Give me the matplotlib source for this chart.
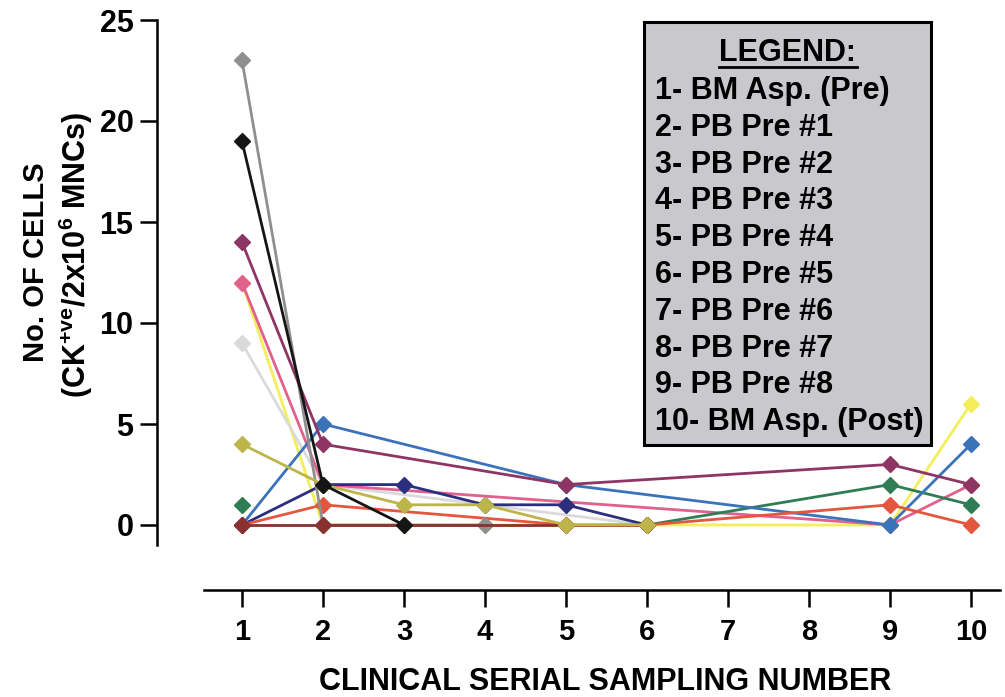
import numpy as np
import matplotlib
matplotlib.use("Agg")
from matplotlib import pyplot as plt
from matplotlib.patches import Rectangle

plt.rcParams['font.family'] = ['Liberation Sans', 'DejaVu Sans']
plt.rcParams['font.weight'] = 'bold'
plt.rcParams['mathtext.fontset'] = 'custom'
plt.rcParams['mathtext.bf'] = 'Liberation Sans:bold'
plt.rcParams['mathtext.rm'] = 'Liberation Sans:bold'
plt.rcParams['mathtext.default'] = 'bf'

# Numeros das amostras (eixo x)
amostras = [1, 2, 3, 4, 5, 6, 7, 8, 9, 10]
y_ticks = [0, 5, 10, 15, 20, 25]

# None = sem amostra (linha continua), nan = linha interrompida
nan = np.nan
amarelo    = [12, 0, 0, 0, 0, 0, None, None, 0, 6]
cinza_clr  = [9, 2, None, None, None, 0, None, None, None, None]
rosa       = [12, 2, None, None, None, None, None, None, 0, 2]
verde      = [1, nan, None, None, None, 0, None, None, 2, 1]
marinho    = [0, 2, 2, 1, 1, 0, None, None, None, None]
azul       = [0, 5, None, None, 2, None, None, None, 0, 4]
vermelho   = [0, 1, None, None, 0, 0, None, None, 1, 0]
cinza      = [23, 0, 0, 0, None, None, None, None, None, None]
marrom     = [0, 0, None, None, 0, 0, None, None, None, None]
bordo      = [14, 4, None, None, 2, None, None, None, 3, 2]
oliva      = [4, 2, 1, 1, 0, 0, None, None, None, None]
preto      = [19, 2, 0, None, None, None, None, None, None, None]

series = [
    (amarelo, "#F3EE5A"),
    (cinza_clr, "#DADADA"),
    (rosa, "#E0608E"),
    (verde, "#2F7D55"),
    (marinho, "#2B2F7E"),
    (azul, "#3B73B9"),
    (vermelho, "#E3573F"),
    (cinza, "#8F8F8F"),
    (marrom, "#8A3030"),
    (bordo, "#8E3563"),
    (oliva, "#BDB54A"),
    (preto, "#151515"),
]

legenda = ["1- BM Asp. (Pre)", "2- PB Pre #1", "3- PB Pre #2", "4- PB Pre #3",
           "5- PB Pre #4", "6- PB Pre #5", "7- PB Pre #6", "8- PB Pre #7",
           "9- PB Pre #8", "10- BM Asp. (Post)"]

fig = plt.figure(figsize=(10.05, 6.97), dpi=100)
ax = fig.add_axes([157 / 1005, 1 - 590 / 697, (1000 - 157) / 1005, (590 - 20) / 697])

for valores, cor in series:
    xs = [a for a, v in zip(amostras, valores) if v is not None]
    ys = [v for v in valores if v is not None]
    ax.plot(xs, ys, color=cor, lw=2, marker="D", markersize=8,
            markeredgecolor=cor, markerfacecolor=cor)

ax.set_xlim(1 - 85 / 81, 10 + 29 / 81)
ax.set_ylim(-65 / 20.2, 25)
ax.spines['top'].set_visible(False)
ax.spines['right'].set_visible(False)
ax.spines['left'].set_bounds(-1, 25)
ax.spines['bottom'].set_bounds(1 - 38 / 81, 10 + 29 / 81)
ax.spines['left'].set_linewidth(1.8)
ax.spines['bottom'].set_linewidth(1.8)

ax.set_xticks(amostras)
ax.set_yticks(y_ticks)
ax.tick_params(axis='both', direction='out', length=12, width=1.8, pad=5)
ax.tick_params(axis='y', labelsize=22)
ax.tick_params(axis='x', labelsize=21, pad=8)
for lbl in ax.get_xticklabels() + ax.get_yticklabels():
    lbl.set_fontweight('bold')

fig.text((310 + 900) / 2 / 1005, 1 - 682 / 697, "CLINICAL SERIAL SAMPLING NUMBER",
         ha='center', va='center', fontsize=22, fontweight='bold')

fig.text(36 / 1005, 1 - 262 / 697, "No. OF CELLS", rotation=90,
         ha='center', va='center', fontsize=21, fontweight='bold')
fig.text(76 / 1005, 1 - 255 / 697, r"(CK$^{+ve}$/2x10$^{6}$ MNCs)", rotation=90,
         ha='center', va='center', fontsize=22, fontweight='bold')

# Caixa da legenda
caixa = Rectangle((644 / 1005, 1 - 445 / 697), (931 - 644) / 1005, (445 - 22) / 697,
                  transform=fig.transFigure, facecolor="#C9C9CD",
                  edgecolor="black", lw=2.2, zorder=5)
fig.patches.append(caixa)
cx = (644 + 931) / 2 / 1005
fig.text(cx, 1 - 53 / 697, "LEGEND:", ha='center', va='center',
         fontsize=22, fontweight='bold', zorder=6)
fig.add_artist(plt.Line2D([cx - 69 / 1005, cx + 69 / 1005],
                          [1 - 67 / 697, 1 - 67 / 697], transform=fig.transFigure,
                          color='black', lw=2, zorder=6))
for i, t in enumerate(legenda):
    fig.text(655 / 1005, 1 - (91 + i * 36.8) / 697, t, ha='left', va='center',
             fontsize=22, fontweight='bold', zorder=6)

fig.savefig("out.png", dpi=100)
